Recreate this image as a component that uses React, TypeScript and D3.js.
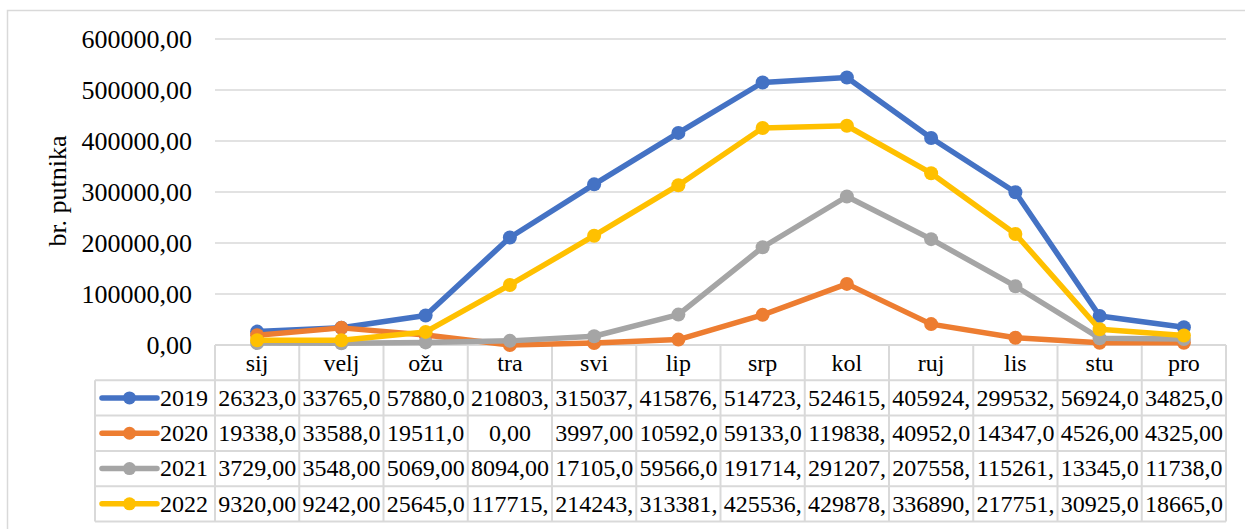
import React from "react";
import * as d3 from "d3";

const months = ["sij", "velj", "ožu", "tra", "svi", "lip", "srp", "kol", "ruj", "lis", "stu", "pro"];
const seriesNames = ["2019", "2020", "2021", "2022"];
const seriesColors = ["#4472C4", "#ED7D31", "#A5A5A5", "#FFC000"];
const values2019 = [26323, 33765, 57880, 210803, 315037, 415876, 514723, 524615, 405924, 299532, 56924, 34825];
const values2020 = [19338, 33588, 19511, 0, 3997, 10592, 59133, 119838, 40952, 14347, 4526, 4325];
const values2021 = [3729, 3548, 5069, 8094, 17105, 59566, 191714, 291207, 207558, 115261, 13345, 11738];
const values2022 = [9320, 9242, 25645, 117715, 214243, 313381, 425536, 429878, 336890, 217751, 30925, 18665];
const yTicks = [0, 100000, 200000, 300000, 400000, 500000, 600000];
const yTitle = "br. putnika";

const allValues = [values2019, values2020, values2021, values2022];

const W = 1245;
const H = 529;
const FONT = "'Liberation Serif', 'Times New Roman', serif";
const GRID = "#d9d9d9";

const plotLeft = 215;
const plotRight = 1226;
const plotTop = 39;
const plotBottom = 345;
const rowH = 35.3;
const legendLeft = 95;
const tableFont = 24;

const loc = d3.formatLocale({ decimal: ",", thousands: "", grouping: [3], currency: ["", ""] });
const fmt = loc.format(".2f");

function textWidth(s: string, size: number) {
  let w = 0;
  for (const c of s) w += c === "," || c === "." ? 0.25 : 0.5;
  return w * size;
}

function fitText(s: string, maxW: number, size: number) {
  let t = s;
  while (t.length > 1 && textWidth(t, size) > maxW) t = t.slice(0, -1);
  return t;
}

export default function App() {
  const x = d3.scaleBand<string>().domain(months).range([plotLeft, plotRight]).paddingInner(0).paddingOuter(0);
  const y = d3.scaleLinear().domain([0, 600000]).range([plotBottom, plotTop]);
  const bw = x.bandwidth();
  const cx = (m: string) => (x(m) as number) + bw / 2;
  const line = d3
    .line<number>()
    .x((_, i) => cx(months[i]))
    .y((v) => y(v));

  const tableBottom = plotBottom + rowH * (seriesNames.length + 1);

  return (
    <svg width={W} height={H} style={{ position: "absolute", left: 0, top: 0, background: "#fff" }}>
      <rect x={7.5} y={10.5} width={W + 20} height={H + 20} fill="#fff" stroke={GRID} strokeWidth={1.5} />
      {/* gridlines */}
      {yTicks.map((t) => (
        <line key={"g" + t} x1={plotLeft} x2={plotRight} y1={y(t)} y2={y(t)} stroke={GRID} strokeWidth={1.5} />
      ))}
      {/* tick labels */}
      {yTicks.map((t) => (
        <text
          key={"t" + t}
          x={192}
          y={y(t)}
          dy="0.35em"
          textAnchor="end"
          fontFamily={FONT}
          fontSize={26}
          fill="#000"
        >
          {fmt(t)}
        </text>
      ))}
      <text
        transform={`translate(66, ${191}) rotate(-90)`}
        textAnchor="middle"
        fontFamily={FONT}
        fontSize={26}
        fill="#000"
      >
        {yTitle}
      </text>

      {/* table grid */}
      <g stroke={GRID} strokeWidth={2} fill="none">
        <line x1={plotLeft} x2={plotRight} y1={plotBottom} y2={plotBottom} />
        {seriesNames.map((_, i) => (
          <line key={"h" + i} x1={legendLeft} x2={plotRight} y1={plotBottom + rowH * (i + 1)} y2={plotBottom + rowH * (i + 1)} />
        ))}
        <line x1={legendLeft} x2={plotRight} y1={tableBottom} y2={tableBottom} />
        <line x1={legendLeft} x2={legendLeft} y1={plotBottom + rowH} y2={tableBottom} />
        {months.map((m) => (
          <line key={"v" + m} x1={x(m) as number} x2={x(m) as number} y1={plotBottom} y2={tableBottom} />
        ))}
        <line x1={plotRight} x2={plotRight} y1={plotBottom} y2={tableBottom} />
      </g>

      {/* header */}
      {months.map((m) => (
        <text
          key={"m" + m}
          x={cx(m)}
          y={plotBottom + rowH / 2}
          dy="0.33em"
          textAnchor="middle"
          fontFamily={FONT}
          fontSize={tableFont}
          fill="#000"
        >
          {m}
        </text>
      ))}

      {/* rows */}
      {seriesNames.map((name, si) => {
        const rowY = plotBottom + rowH * (si + 1) + rowH / 2;
        return (
          <g key={"r" + name}>
            <line x1={102} x2={157} y1={rowY} y2={rowY} stroke={seriesColors[si]} strokeWidth={5.5} strokeLinecap="round" />
            <circle cx={129.5} cy={rowY} r={6.5} fill={seriesColors[si]} />
            <text x={160} y={rowY} dy="0.33em" fontFamily={FONT} fontSize={tableFont} fill="#000">
              {name}
            </text>
            {allValues[si].map((v, i) => (
              <text
                key={"c" + i}
                x={cx(months[i])}
                y={rowY}
                dy="0.33em"
                textAnchor="middle"
                fontFamily={FONT}
                fontSize={tableFont}
                fill="#000"
              >
                {fitText(fmt(v), bw - 4, tableFont)}
              </text>
            ))}
          </g>
        );
      })}

      {/* series */}
      {allValues.map((vals, si) => (
        <g key={"s" + si}>
          <path d={line(vals) || ""} fill="none" stroke={seriesColors[si]} strokeWidth={5.5} strokeLinejoin="round" strokeLinecap="round" />
          {vals.map((v, i) => (
            <circle key={i} cx={cx(months[i])} cy={y(v)} r={7} fill={seriesColors[si]} />
          ))}
        </g>
      ))}
    </svg>
  );
}
